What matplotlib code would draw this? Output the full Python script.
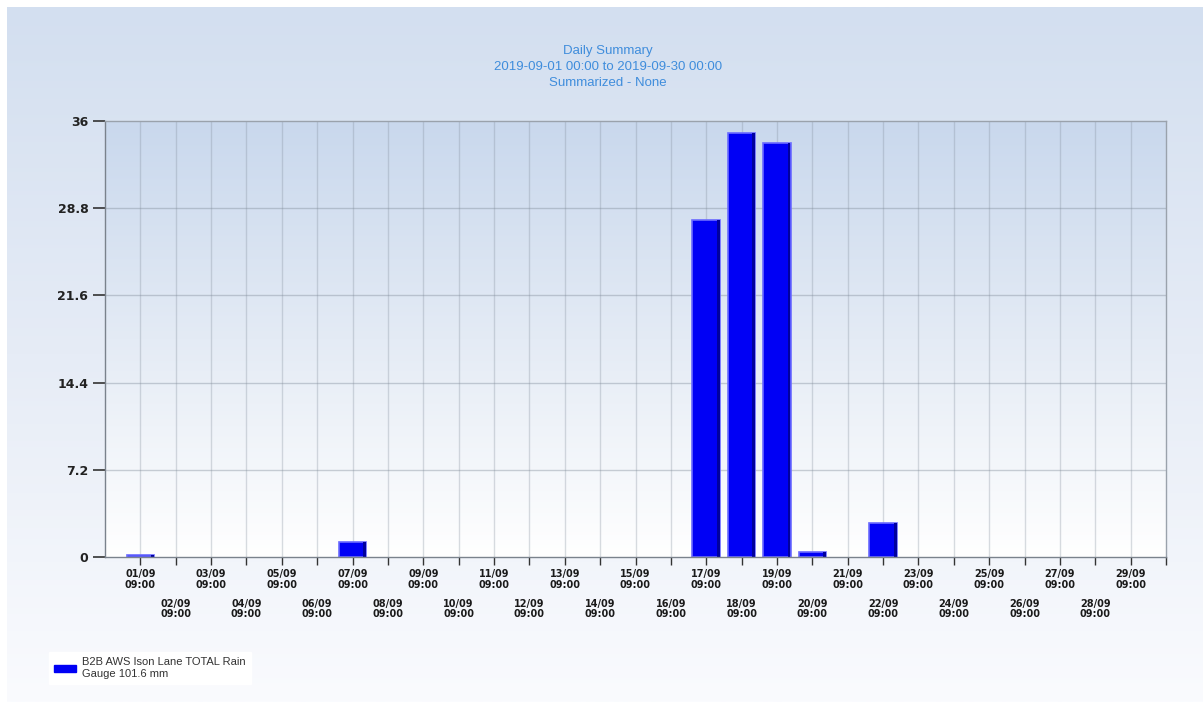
import matplotlib
matplotlib.use("Agg")
import matplotlib.pyplot as plt
import numpy as np
from matplotlib.patches import Patch
from matplotlib.colors import LinearSegmentedColormap

# daily rain totals, 01/09 .. 29/09 (mm)
days = list(range(1, 30))
day_labels = [f"{d:02d}/09\n09:00" for d in days]
rain = [0.2, 0, 0, 0, 0, 0, 1.2, 0, 0, 0,
        0, 0, 0, 0, 0, 0, 27.8, 35.0, 34.2, 0.4,
        0, 2.8, 0, 0, 0, 0, 0, 0, 0]
y_ticks = [0, 7.2, 14.4, 21.6, 28.8, 36]
y_tick_labels = ["0", "7.2", "14.4", "21.6", "28.8", "36"]

title_lines = "Daily Summary\n2019-09-01 00:00 to 2019-09-30 00:00\nSummarized - None"
legend_label = "B2B AWS Ison Lane TOTAL Rain\nGauge 101.6 mm"

W, H = 1203, 702
fig = plt.figure(figsize=(W / 100, H / 100), dpi=100)
fig.patch.set_facecolor("white")

# figure background gradient (leaves a thin white frame top/left)
bg = fig.add_axes([7 / W, 0, 1 - 7 / W, 1 - 7 / H], zorder=-10)
bg_cmap = LinearSegmentedColormap.from_list("bg", ["#d3dff0", "#e6ecf6", "#fafbfe"])
bg.imshow(np.linspace(0, 1, 256).reshape(-1, 1), cmap=bg_cmap, aspect="auto",
          extent=(0, 1, 0, 1))
bg.axis("off")

left, right, top, bottom = 105, 1166, 121, 557
ax = fig.add_axes([left / W, 1 - bottom / H, (right - left) / W, (bottom - top) / H])
ax.set_facecolor("none")
plot_cmap = LinearSegmentedColormap.from_list("pa", ["#c9d8ed", "#e4ebf5", "#ffffff"])
ax.imshow(np.linspace(0, 1, 256).reshape(-1, 1), cmap=plot_cmap, aspect="auto",
          extent=(0, 30, 0, 36), zorder=0)

ax.set_xlim(0, 30)
ax.set_ylim(0, 36)

# bars with a bevelled look (days without rain draw nothing)
wet_days = [d for d, r in zip(days, rain) if r > 0]
wet_rain = [r for r in rain if r > 0]
bar_w = 0.78
ax.bar(wet_days, wet_rain, width=bar_w, color="#0000f5", edgecolor="#6b6bff",
       linewidth=1.2, zorder=3)
ax.bar([d + bar_w / 2 - 0.05 for d in wet_days], wet_rain, width=0.08,
       color="#00009e", linewidth=0, zorder=4)

# grid
for d in days:
    ax.axvline(d, color="#7f8a98", alpha=0.3, lw=1, zorder=1)
for yv in y_ticks[1:-1]:
    ax.axhline(yv, color="#7f8a98", alpha=0.4, lw=1, zorder=1)

# y axis
ax.set_yticks(y_ticks)
ax.set_yticklabels(y_tick_labels, fontsize=9, fontweight="bold", color="#222222")
ax.tick_params(axis="y", length=9, width=1.2, color="#333333", pad=3)

# x axis: odd days on first row, even days on second row
odd = [d for d in days if d % 2 == 1]
even = [d for d in days if d % 2 == 0]
ax.set_xticks(odd)
ax.set_xticklabels([day_labels[d - 1] for d in odd], fontsize=7,
                   fontweight="bold", color="#1a1a1a", linespacing=1.05)
ax.set_xticks(even + [30], minor=True)
ax.set_xticklabels([day_labels[d - 1] for d in even] + [""], minor=True,
                   fontsize=7, fontweight="bold", color="#1a1a1a", linespacing=1.05)
ax.tick_params(axis="x", which="major", length=6, width=1, color="#333333", pad=3)
ax.tick_params(axis="x", which="minor", length=6, width=1, color="#333333", pad=24)

for name, sp in ax.spines.items():
    sp.set_color("#9aa2ac")
    sp.set_linewidth(1)
    sp.set_zorder(5)
ax.spines["left"].set_color("#7a828c")
ax.spines["bottom"].set_color("#7a828c")

fig.text(608 / W, 1 - 45 / H, title_lines, ha="center", va="top", fontsize=9.5,
         color="#3f8ddc", family="Liberation Sans", linespacing=1.45)

leg = fig.legend(handles=[Patch(facecolor="#0000f5", edgecolor="#0000f5")],
                 labels=[legend_label], loc="lower left",
                 bbox_to_anchor=(43 / W, 1 - 690 / H), frameon=True,
                 fancybox=False, framealpha=1, edgecolor="white",
                 prop={"family": "Liberation Sans", "size": 8},
                 handlelength=2.0, handleheight=0.6, handletextpad=0.5,
                 borderpad=0.5, labelspacing=0.2)
for t in leg.get_texts():
    t.set_color("#333333")

fig.savefig("out.png", dpi=100)
